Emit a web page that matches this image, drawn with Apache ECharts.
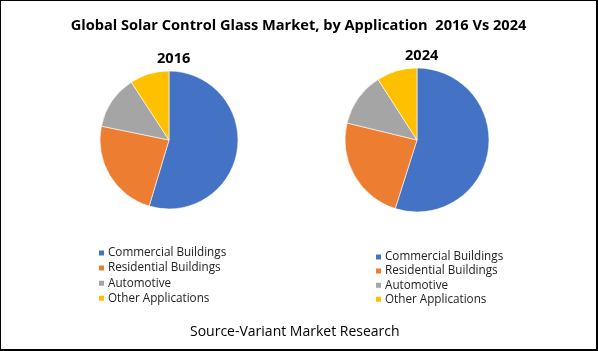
<!DOCTYPE html>
<html>
<head>
<meta charset="utf-8">
<script src="https://cdn.jsdelivr.net/npm/echarts@6/dist/echarts.min.js"></script>
<style>
  html, body { margin: 0; padding: 0; background: #fff; }
  #chart { width: 598px; height: 351px; box-sizing: border-box; border: 1px solid #000; border-right-width: 2px; border-bottom-width: 2px; }
</style>
</head>
<body>
<div id="chart"></div>
<script>
// categories and shares (%)
const categories = ['Commercial Buildings', 'Residential Buildings', 'Automotive', 'Other Applications'];
const share2016 = [54.7, 23.6, 12.6, 9.2];
const share2024 = [54.9, 23.9, 12.1, 9.1];
const colors = ['#4472C4', '#ED7D31', '#A5A5A5', '#FFC000'];

const font = 'Open Sans';

function pieData(values) {
  return categories.map((name, i) => ({ name: name, value: values[i] }));
}

function pieSeries(name, values, center, radius) {
  return {
    name: name,
    type: 'pie',
    center: center,
    radius: radius,
    startAngle: 90,
    clockwise: true,
    label: { show: false },
    labelLine: { show: false },
    emphasis: { disabled: true },
    itemStyle: { borderColor: '#fff', borderWidth: 0.6 },
    data: pieData(values)
  };
}

function legend(left, top, gap) {
  return {
    orient: 'vertical',
    left: left,
    top: top,
    itemWidth: 7,
    itemHeight: 7,
    itemGap: gap,
    icon: 'rect',
    selectedMode: false,
    textStyle: { fontFamily: font, fontSize: 11.7, lineHeight: 11, color: '#222', padding: [0, 0, 0, -2] },
    data: categories
  };
}

const myChart = echarts.init(document.getElementById('chart'));
myChart.setOption({
  animation: false,
  color: colors,
  title: [
    {
      text: 'Global Solar Control Glass Market, by Application  2016 Vs 2024',
      left: 'center', top: 12,
      textStyle: { fontFamily: font, fontWeight: 'bold', fontSize: 14.6, color: '#000' }
    },
    {
      text: '2016', left: 151, top: 45,
      textStyle: { fontFamily: font, fontWeight: 'bold', fontSize: 14.6, color: '#000' }
    },
    {
      text: '2024', left: 399, top: 42,
      textStyle: { fontFamily: font, fontWeight: 'bold', fontSize: 14.6, color: '#000' }
    },
    {
      text: 'Source-Variant Market Research',
      left: 184, top: 319,
      textStyle: { fontFamily: font, fontWeight: 'normal', fontSize: 14, color: '#000' }
    }
  ],
  legend: [legend(91, 241, 3.1), legend(368, 245, 2.1)],
  series: [
    pieSeries('2016', share2016, [168, 139], 69),
    pieSeries('2024', share2024, [416, 139], 72)
  ]
});
</script>
</body>
</html>
